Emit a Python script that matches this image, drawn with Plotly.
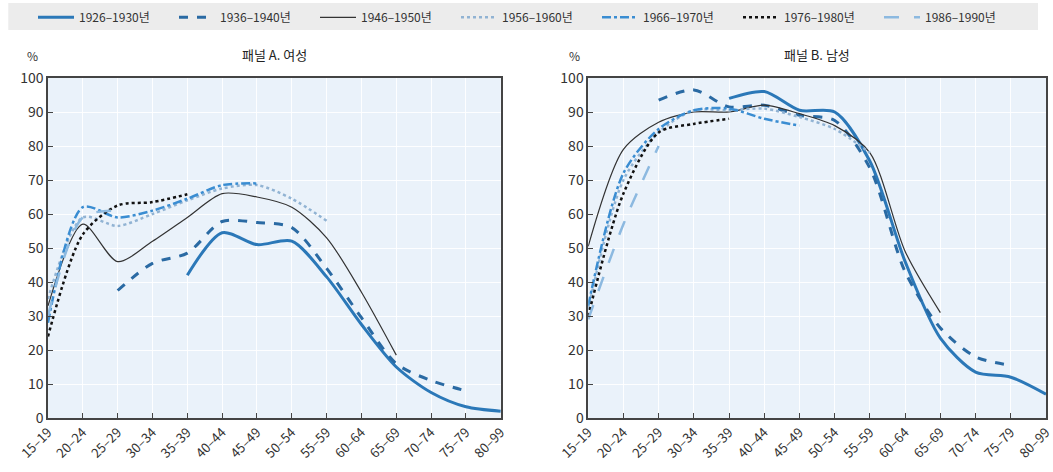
import plotly.graph_objects as go
from plotly.subplots import make_subplots

# Age groups on the x axis
age_groups = ["15–19", "20–24", "25–29", "30–34", "35–39", "40–44", "45–49",
              "50–54", "55–59", "60–64", "65–69", "70–74", "75–79", "80–99"]

cohorts = ["1926–1930년", "1936–1940년", "1946–1950년", "1956–1960년",
           "1966–1970년", "1976–1980년", "1986–1990년"]

N = None

# Panel A: women, participation rate (%) by age group
women_1926 = [N, N, N, N, 42, 54.5, 51, 52, 41.5, 27.5, 15, 7.5, 3.3, 2]
women_1936 = [N, N, 37.5, 45.5, 48.5, 57.8, 57.5, 56, 44, 29.5, 16, 11, 8, N]
women_1946 = [33, 57, 46, 52, 59, 66, 65, 62, 53, 37, 18.5, N, N, N]
women_1956 = [35, 59, 56.5, 60, 64, 67.5, 68.5, 64.5, 58, N, N, N, N, N]
women_1966 = [28, 62, 59, 61, 64.5, 68.5, 69, N, N, N, N, N, N, N]
women_1976 = [24, 54, 62.5, 63.5, 65.8, N, N, N, N, N, N, N, N, N]
women_1986 = [30, 59, 61, N, N, N, N, N, N, N, N, N, N, N]

# Panel B: men, participation rate (%) by age group
men_1926 = [N, N, N, N, 94, 96, 90.5, 90, 75.5, 46, 23.5, 13.5, 12, 7]
men_1936 = [N, N, 93.5, 96.5, 91.5, 92, 89, 87.5, 73.5, 43, 26.5, 18, 15.5, N]
men_1946 = [50.5, 79, 87, 90, 90, 92, 89.5, 86, 78, 49, 31, N, N, N]
men_1956 = [32, 70, 84, 90.5, 90.5, 91, 88.5, 85, 78, N, N, N, N, N]
men_1966 = [33, 72, 85, 90.5, 91, 88, 86, N, N, N, N, N, N, N]
men_1976 = [30, 66, 84, 86.5, 88, N, N, N, N, N, N, N, N, N]
men_1986 = [29, 57, 80, N, N, N, N, N, N, N, N, N, N, N]

women = [women_1926, women_1936, women_1946, women_1956,
         women_1966, women_1976, women_1986]
men = [men_1926, men_1936, men_1946, men_1956,
       men_1966, men_1976, men_1986]

styles = [
    dict(color="#2b78b8", width=3, dash="solid"),
    dict(color="#2a6aa3", width=3, dash="dash"),
    dict(color="#333333", width=1.2, dash="solid"),
    dict(color="#91b3d3", width=2.5, dash="dot"),
    dict(color="#3a8dd2", width=2.5, dash="dashdot"),
    dict(color="#111111", width=2.5, dash="dot"),
    dict(color="#8cb9e0", width=2.5, dash="longdash"),
]

fig = make_subplots(rows=1, cols=2, horizontal_spacing=0.0876)

for i, name in enumerate(cohorts):
    fig.add_trace(go.Scatter(x=age_groups, y=women[i], name=name, mode="lines",
                             line=dict(shape="spline", smoothing=0.8, **styles[i]),
                             legendgroup=name, showlegend=True),
                  row=1, col=1)
    fig.add_trace(go.Scatter(x=age_groups, y=men[i], name=name, mode="lines",
                             line=dict(shape="spline", smoothing=0.8, **styles[i]),
                             legendgroup=name, showlegend=False),
                  row=1, col=2)

font_family = "Noto Sans CJK KR, Noto Sans, sans-serif"

xaxis_style = dict(
    type="category", range=[0, 13], tickangle=-45,
    showgrid=True, gridcolor="rgba(255,255,255,0.9)", gridwidth=1,
    showline=True, linecolor="#444444", linewidth=1.5, mirror=True,
    ticks="inside", ticklen=5, tickcolor="#444444",
    tickfont=dict(size=13, color="#333333", family=font_family),
    zeroline=False, fixedrange=True,
)
yaxis_style = dict(
    range=[0, 100], dtick=10,
    showgrid=True, gridcolor="rgba(255,255,255,0.9)", gridwidth=1,
    showline=True, linecolor="#444444", linewidth=1.5, mirror=True,
    ticks="inside", ticklen=5, tickcolor="#444444",
    tickfont=dict(size=14, color="#333333", family=font_family),
    zeroline=False, fixedrange=True,
)

fig.update_xaxes(**xaxis_style)
fig.update_yaxes(**yaxis_style)
fig.update_layout(
    xaxis=dict(domain=[0, 0.4537]),
    xaxis2=dict(domain=[0.5413, 1.0]),
)

# Grey band behind the legend
legend_band = dict(type="rect", xref="paper", yref="paper",
                   x0=-0.0398, x1=0.9920, y0=1.141, y1=1.2206,
                   fillcolor="#ececec", line=dict(width=0), layer="below")

fig.update_layout(
    width=1053, height=472,
    margin=dict(l=48, r=0, t=78, b=54),
    paper_bgcolor="white",
    plot_bgcolor="#eaf2fa",
    font=dict(family=font_family, color="#333333"),
    shapes=[legend_band],
    legend=dict(
        orientation="h", x=0.5, xanchor="center", y=0.994, yanchor="top",
        xref="container", yref="container",
        bgcolor="rgba(0,0,0,0)", borderwidth=0,
        font=dict(size=12, color="#333333", family=font_family),
        entrywidth=90, entrywidthmode="pixels",
        tracegroupgap=0, itemwidth=36,
    ),
    annotations=[
        dict(text="패널 A. 여성", x=0.2268, y=1.035, xref="paper", yref="paper",
             xanchor="center", yanchor="bottom", showarrow=False,
             font=dict(size=13, color="#222222", family=font_family)),
        dict(text="패널 B. 남성", x=0.7706, y=1.035, xref="paper", yref="paper",
             xanchor="center", yanchor="bottom", showarrow=False,
             font=dict(size=13, color="#222222", family=font_family)),
        dict(text="%", x=-0.016, y=1.035, xref="paper", yref="paper",
             xanchor="center", yanchor="bottom", showarrow=False,
             font=dict(size=12, color="#333333", family=font_family)),
        dict(text="%", x=0.5279, y=1.035, xref="paper", yref="paper",
             xanchor="center", yanchor="bottom", showarrow=False,
             font=dict(size=12, color="#333333", family=font_family)),
    ],
)

fig.write_html("out.html")
